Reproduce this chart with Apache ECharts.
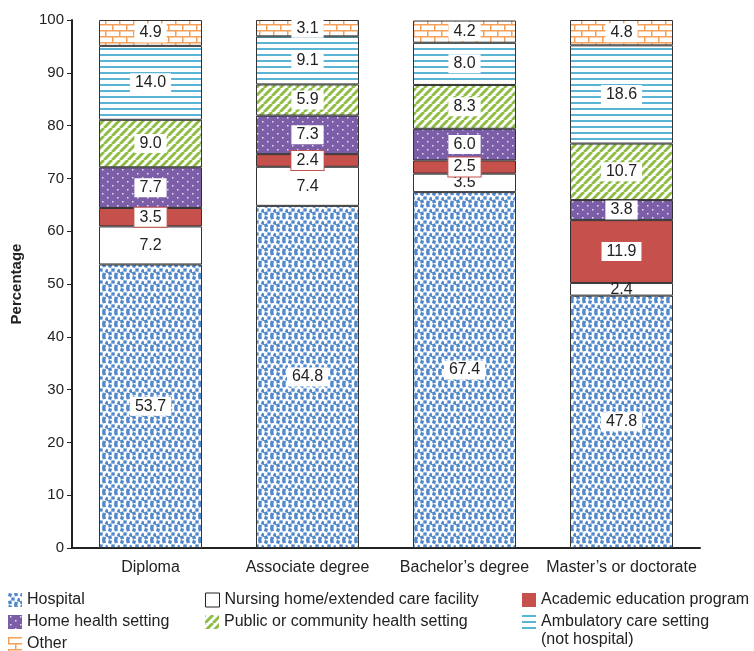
<!DOCTYPE html>
<html>
<head>
    <meta charset="utf-8">
    <title>Employment setting by education</title>
    <script src="https://cdn.jsdelivr.net/npm/echarts@6/dist/echarts.min.js"></script>
</head>
<body style="margin:0">
<div id="main" style="width: 754px;height:651px;"></div>
<script type="text/javascript">
    // data
    const categories = ['Diploma', 'Associate degree', 'Bachelor\u2019s degree', 'Master\u2019s or doctorate'];
    const hospital = [53.7, 64.8, 67.4, 47.8];
    const nursing = [7.2, 7.4, 3.5, 2.4];
    const academic = [3.5, 2.4, 2.5, 11.9];
    const homeHealth = [7.7, 7.3, 6.0, 3.8];
    const publicHealth = [9.0, 5.9, 8.3, 10.7];
    const ambulatory = [14.0, 9.1, 8.0, 18.6];
    const other = [4.9, 3.1, 4.2, 4.8];

    const FONT = '"Liberation Sans", Arial, sans-serif';

    function tile(w, h, draw) {
        const c = document.createElement('canvas');
        c.width = w; c.height = h;
        const ctx = c.getContext('2d');
        draw(ctx, w, h);
        return { image: c, repeat: 'repeat' };
    }

    // hospital: small tilted blue squares on white, a bit irregular
    const hospitalFill = tile(12, 12, function (ctx, w, h) {
        ctx.fillStyle = '#fff'; ctx.fillRect(0, 0, w, h);
        ctx.fillStyle = '#5189cc';
        [[2, 2, 0.35], [8, 1.5, -0.2], [5, 6, 0.1], [11, 7, 0.4], [2, 9.5, -0.3], [8, 10.5, 0.25]].forEach(function (p) {
            ctx.save();
            ctx.translate(p[0], p[1]);
            ctx.rotate(p[2]);
            ctx.fillRect(-1.7, -1.7, 3.4, 3.4);
            ctx.restore();
        });
    });
    // home health: purple with sparse white dots
    const homeFill = tile(10, 8, function (ctx, w, h) {
        ctx.fillStyle = '#7b5ea7'; ctx.fillRect(0, 0, w, h);
        ctx.fillStyle = '#e8e0f2';
        ctx.fillRect(2, 1, 1.5, 1.5);
        ctx.fillRect(7, 5, 1.5, 1.5);
    });
    // public / community: green diagonal stripes
    const publicFill = tile(8, 8, function (ctx, w, h) {
        ctx.fillStyle = '#fff'; ctx.fillRect(0, 0, w, h);
        ctx.strokeStyle = '#8fbc45';
        ctx.lineWidth = 3;
        [-8, 0, 8].forEach(function (o) {
            ctx.beginPath();
            ctx.moveTo(o, h); ctx.lineTo(o + w, 0);
            ctx.stroke();
        });
    });
    // ambulatory: light blue horizontal lines
    const ambulatoryFill = tile(4, 6, function (ctx, w, h) {
        ctx.fillStyle = '#fff'; ctx.fillRect(0, 0, w, h);
        ctx.fillStyle = '#5ab4d3';
        ctx.fillRect(0, 0, w, 2);
    });
    // other: orange brick
    const otherFill = tile(14, 12, function (ctx, w, h) {
        ctx.fillStyle = '#fff'; ctx.fillRect(0, 0, w, h);
        ctx.fillStyle = '#f5a05a';
        ctx.fillRect(0, 0, w, 1.5);
        ctx.fillRect(0, 6, w, 1.5);
        ctx.fillRect(0, 0, 1.5, 6);
        ctx.fillRect(7, 6, 1.5, 6);
    });

    const baseLabel = {
        show: true,
        position: 'inside',
        fontFamily: FONT,
        fontSize: 16,
        color: '#222',
        backgroundColor: '#fff',
        padding: [2, 5, 1, 5],
        formatter: function (p) { return p.value.toFixed(1); }
    };

    function makeSeries(name, data, fill, labelExtra) {
        return {
            name: name,
            type: 'bar',
            stack: 'total',
            barWidth: 103,
            data: data,
            itemStyle: { color: fill, borderColor: '#333', borderWidth: 1 },
            label: Object.assign({}, baseLabel, labelExtra || {}),
            emphasis: { disabled: true }
        };
    }

    const series = [
        makeSeries('Hospital', hospital, hospitalFill),
        makeSeries('Nursing home/extended care facility', nursing, '#fff', { backgroundColor: 'transparent' }),
        makeSeries('Academic education program', academic, '#c6504c', { borderColor: '#c6504c', borderWidth: 1 }),
        makeSeries('Home health setting', homeHealth, homeFill),
        makeSeries('Public or community health setting', publicHealth, publicFill),
        makeSeries('Ambulatory care setting', ambulatory, ambulatoryFill),
        makeSeries('Other', other, otherFill)
    ];

    // one legend per entry so each sits where the original puts it
    function legendItem(name, left, centerY) {
        const item = { name: name };
        if (name.indexOf('Nursing') === 0) {
            item.itemStyle = { borderColor: '#222', borderWidth: 1 };
        }
        return {
            left: left,
            top: centerY - 7,
            padding: 0,
            icon: 'rect',
            itemWidth: 14,
            itemHeight: 14,
            selectedMode: false,
            itemStyle: { borderWidth: 0 },
            textStyle: { fontFamily: FONT, fontSize: 16, color: '#222' },
            data: [item]
        };
    }

    let myChart = echarts.init(document.getElementById('main'));
    myChart.setOption({
        animation: false,
        grid: { left: 72, right: 54, top: 20, bottom: 103 },
        xAxis: {
            type: 'category',
            data: categories,
            axisLine: { lineStyle: { color: '#222', width: 2 } },
            axisTick: { length: 6, lineStyle: { color: '#222' } },
            axisLabel: { interval: 0, fontFamily: FONT, fontSize: 16, color: '#222', margin: 12 }
        },
        yAxis: {
            type: 'value',
            min: 0,
            max: 100,
            interval: 10,
            name: 'Percentage',
            nameLocation: 'middle',
            nameGap: 48,
            nameTextStyle: { fontFamily: FONT, fontSize: 15, fontWeight: 'bold', color: '#222' },
            axisLine: { show: true, lineStyle: { color: '#222', width: 2 } },
            axisTick: { show: true, length: 5, lineStyle: { color: '#222' } },
            axisLabel: { fontFamily: FONT, fontSize: 15, color: '#222', margin: 8 },
            splitLine: { show: false }
        },
        legend: [
            legendItem('Hospital', 8, 599),
            legendItem('Home health setting', 8, 621),
            legendItem('Other', 8, 643),
            legendItem('Nursing home/extended care facility', 205, 599),
            legendItem('Public or community health setting', 205, 621),
            legendItem('Academic education program', 522, 599),
            legendItem('Ambulatory care setting', 522, 621)
        ],
        graphic: [{
            type: 'text',
            left: 541,
            top: 632,
            style: { text: '(not hospital)', font: '16px ' + FONT, fill: '#222' }
        }],
        series: series
    });
</script>
</body>
</html>
